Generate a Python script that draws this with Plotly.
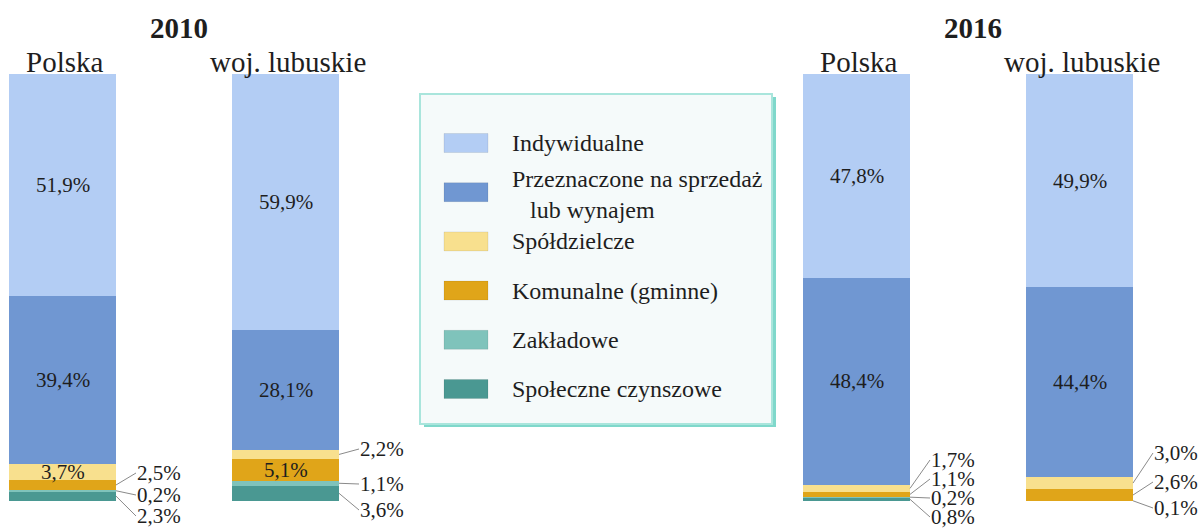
import plotly.graph_objects as go

# --- data -------------------------------------------------------------
years = ["2010", "2016"]
bar_names = ["Polska", "woj. lubuskie", "Polska", "woj. lubuskie"]
bar_year = [0, 0, 1, 1]

series_names = [
    "Indywidualne",
    "Przeznaczone na sprzedaż lub wynajem",
    "Spółdzielcze",
    "Komunalne (gminne)",
    "Zakładowe",
    "Społeczne czynszowe",
]
indywidualne = [51.9, 59.9, 47.8, 49.9]
przeznaczone = [39.4, 28.1, 48.4, 44.4]
spoldzielcze = [3.7, 2.2, 1.7, 3.0]
komunalne = [2.5, 5.1, 1.1, 2.6]
zakladowe = [0.2, 1.1, 0.2, 0.1]
spoleczne = [2.3, 3.6, 0.8, 0.0]

# --- layout / style ---------------------------------------------------
W, H = 1198, 530
M_TOP, M_BOT = 74, 29
PLOT_H = H - M_TOP - M_BOT
FONT = "Liberation Serif"
TXT = "#1e1e1e"

bar_x = [62.5, 285.5, 856.5, 1079.5]
bar_w = 107
colors = ["#b3cdf4", "#7097d2", "#f8e08e", "#e0a519", "#7fc3bb", "#4a9892"]
values = [indywidualne, przeznaczone, spoldzielcze, komunalne, zakladowe, spoleczne]

# series drawn inside the bar for each column
inside = [
    {0, 1, 2},
    {0, 1, 3},
    {0, 1},
    {0, 1},
]
# outside labels: series index -> label centre (screen y, px)
outside = [
    {3: 473, 4: 495, 5: 516},
    {2: 449, 4: 484, 5: 510},
    {2: 460, 3: 479, 4: 498, 5: 517},
    {2: 453, 3: 482, 4: 508},
]
LABEL_GAP = 20


def py_to_val(py):
    return (H - M_BOT - py) / PLOT_H * 100


def py_to_paper(py):
    return (H - M_BOT - py) / PLOT_H


def px_to_paper(px):
    return px / W


def fmt(v):
    return f"{v:.1f}".replace(".", ",") + "%"


fig = go.Figure()

# stacked from the bottom up: last series first
stack_order = list(range(len(series_names)))[::-1]
for s in stack_order:
    fig.add_trace(go.Bar(
        x=bar_x, y=values[s], width=bar_w, name=series_names[s],
        marker=dict(color=colors[s], line=dict(width=0)),
        showlegend=False, hoverinfo="skip",
    ))

annotations = []
shapes = []

# value labels
for b in range(len(bar_x)):
    base = 0.0
    mids = {}
    for s in stack_order:
        v = values[s][b]
        mids[s] = base + v / 2
        base += v
    for s in inside[b]:
        annotations.append(dict(
            x=bar_x[b], y=mids[s], xref="x", yref="y", text=fmt(values[s][b]),
            showarrow=False, font=dict(family=FONT, size=21, color=TXT),
        ))
    right = bar_x[b] + bar_w / 2
    for s, py in outside[b].items():
        annotations.append(dict(
            x=right, y=mids[s], xref="x", yref="y",
            ax=right + LABEL_GAP, ay=py_to_val(py), axref="x", ayref="y",
            text=fmt(values[s][b]), showarrow=True, arrowhead=0,
            arrowwidth=1, arrowcolor="#8a8a8a", standoff=0,
            xanchor="left", yanchor="middle", borderpad=0,
            font=dict(family=FONT, size=21, color=TXT),
        ))

# bar captions
for b, name in enumerate(bar_names):
    annotations.append(dict(
        x=bar_x[b], y=py_to_paper(62), xref="x", yref="paper", text=name,
        showarrow=False, yanchor="middle", xshift=2,
        font=dict(family=FONT, size=29, color=TXT),
    ))

# year headings
for i, yr in enumerate(years):
    xs = [bar_x[b] for b in range(len(bar_x)) if bar_year[b] == i]
    annotations.append(dict(
        x=sum(xs) / len(xs), y=py_to_paper(28), xref="x", yref="paper",
        text=f"<b>{yr}</b>", showarrow=False, yanchor="middle", xshift=5,
        font=dict(family=FONT, size=29, color=TXT),
    ))

# legend panel
BOX_L, BOX_T, BOX_R, BOX_B = 420, 94, 772, 424
shapes.append(dict(
    type="rect", xref="paper", yref="paper",
    x0=px_to_paper(BOX_L + 4), x1=px_to_paper(BOX_R + 4),
    y0=py_to_paper(BOX_B + 3), y1=py_to_paper(BOX_T + 3),
    fillcolor="#7fd8cb", line=dict(width=0), layer="above",
))
shapes.append(dict(
    type="rect", xref="paper", yref="paper",
    x0=px_to_paper(BOX_L), x1=px_to_paper(BOX_R),
    y0=py_to_paper(BOX_B), y1=py_to_paper(BOX_T),
    fillcolor="#f5fafa", line=dict(color="#a9e5dc", width=2), layer="above",
))

legend_labels = [
    "Indywidualne",
    "Przeznaczone na sprzedaż<br>&nbsp;&nbsp;&nbsp;lub wynajem",
    "Spółdzielcze",
    "Komunalne (gminne)",
    "Zakładowe",
    "Społeczne czynszowe",
]
ROW0, ROW_STEP = 143, 49.2
SW_L, SW_R, SW_H = 444, 488, 19
TEXT_X = 510
for i, lab in enumerate(legend_labels):
    cy = ROW0 + i * ROW_STEP
    shapes.append(dict(
        type="rect", xref="paper", yref="paper",
        x0=px_to_paper(SW_L), x1=px_to_paper(SW_R),
        y0=py_to_paper(cy + SW_H / 2), y1=py_to_paper(cy - SW_H / 2),
        fillcolor=colors[i], line=dict(color="rgba(0,0,0,0.08)", width=1),
        layer="above",
    ))
    annotations.append(dict(
        x=px_to_paper(TEXT_X), y=py_to_paper(cy + (2 if i == 1 else 0)),
        xref="paper", yref="paper", text=lab, showarrow=False,
        xanchor="left", yanchor="middle", align="left",
        font=dict(family=FONT, size=24, color=TXT),
    ))

fig.update_layout(
    width=W, height=H,
    margin=dict(l=0, r=0, t=M_TOP, b=M_BOT, pad=0),
    barmode="stack",
    paper_bgcolor="white", plot_bgcolor="white",
    xaxis=dict(range=[0, W], visible=False, fixedrange=True),
    yaxis=dict(range=[0, 100], visible=False, fixedrange=True),
    shapes=shapes, annotations=annotations,
    showlegend=False,
)

fig.write_html("out.html", config={"displayModeBar": False})
